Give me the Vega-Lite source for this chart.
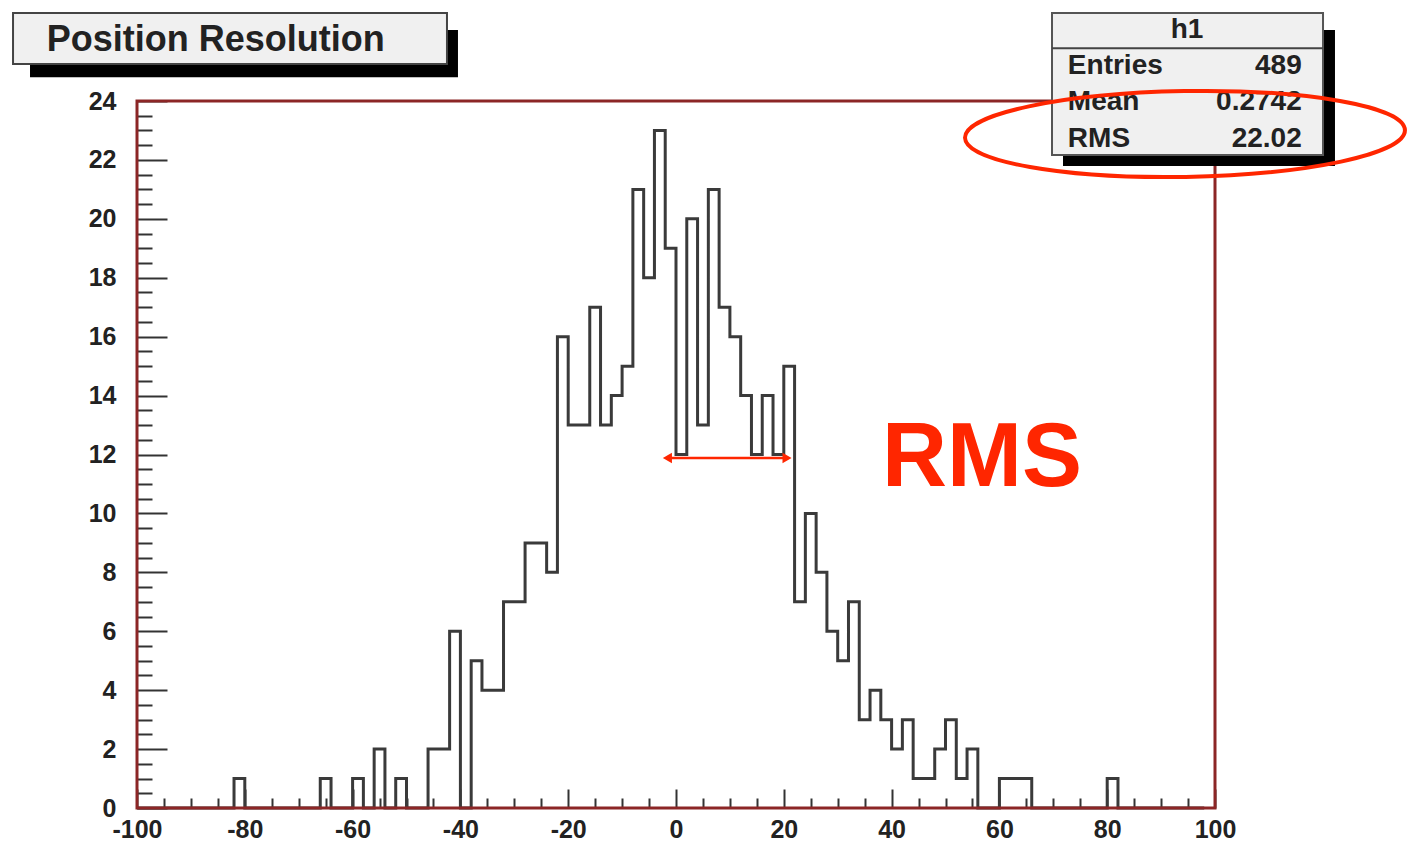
{
  "$schema": "https://vega.github.io/schema/vega-lite/v6.json",
  "width": 1078,
  "height": 707,
  "autosize": {"type": "none"},
  "padding": {"left": 137, "top": 101, "right": 193, "bottom": 37},
  "background": "white",
  "config": {"view": {"stroke": null}, "font": "Liberation Sans"},
  "datasets": {
    "h1": [
      {"x": -100, "count": 0}, {"x": -98, "count": 0}, {"x": -96, "count": 0}, {"x": -94, "count": 0},
      {"x": -92, "count": 0}, {"x": -90, "count": 0}, {"x": -88, "count": 0}, {"x": -86, "count": 0},
      {"x": -84, "count": 0}, {"x": -82, "count": 1}, {"x": -80, "count": 0}, {"x": -78, "count": 0},
      {"x": -76, "count": 0}, {"x": -74, "count": 0}, {"x": -72, "count": 0}, {"x": -70, "count": 0},
      {"x": -68, "count": 0}, {"x": -66, "count": 1}, {"x": -64, "count": 0}, {"x": -62, "count": 0},
      {"x": -60, "count": 1}, {"x": -58, "count": 0}, {"x": -56, "count": 2}, {"x": -54, "count": 0},
      {"x": -52, "count": 1}, {"x": -50, "count": 0}, {"x": -48, "count": 0}, {"x": -46, "count": 2},
      {"x": -44, "count": 2}, {"x": -42, "count": 6}, {"x": -40, "count": 0}, {"x": -38, "count": 5},
      {"x": -36, "count": 4}, {"x": -34, "count": 4}, {"x": -32, "count": 7}, {"x": -30, "count": 7},
      {"x": -28, "count": 9}, {"x": -26, "count": 9}, {"x": -24, "count": 8}, {"x": -22, "count": 16},
      {"x": -20, "count": 13}, {"x": -18, "count": 13}, {"x": -16, "count": 17}, {"x": -14, "count": 13},
      {"x": -12, "count": 14}, {"x": -10, "count": 15}, {"x": -8, "count": 21}, {"x": -6, "count": 18},
      {"x": -4, "count": 23}, {"x": -2, "count": 19}, {"x": 0, "count": 12}, {"x": 2, "count": 20},
      {"x": 4, "count": 13}, {"x": 6, "count": 21}, {"x": 8, "count": 17}, {"x": 10, "count": 16},
      {"x": 12, "count": 14}, {"x": 14, "count": 12}, {"x": 16, "count": 14}, {"x": 18, "count": 12},
      {"x": 20, "count": 15}, {"x": 22, "count": 7}, {"x": 24, "count": 10}, {"x": 26, "count": 8},
      {"x": 28, "count": 6}, {"x": 30, "count": 5}, {"x": 32, "count": 7}, {"x": 34, "count": 3},
      {"x": 36, "count": 4}, {"x": 38, "count": 3}, {"x": 40, "count": 2}, {"x": 42, "count": 3},
      {"x": 44, "count": 1}, {"x": 46, "count": 1}, {"x": 48, "count": 2}, {"x": 50, "count": 3},
      {"x": 52, "count": 1}, {"x": 54, "count": 2}, {"x": 56, "count": 0}, {"x": 58, "count": 0},
      {"x": 60, "count": 1}, {"x": 62, "count": 1}, {"x": 64, "count": 1}, {"x": 66, "count": 0},
      {"x": 68, "count": 0}, {"x": 70, "count": 0}, {"x": 72, "count": 0}, {"x": 74, "count": 0},
      {"x": 76, "count": 0}, {"x": 78, "count": 0}, {"x": 80, "count": 1}, {"x": 82, "count": 0},
      {"x": 84, "count": 0}, {"x": 86, "count": 0}, {"x": 88, "count": 0}, {"x": 90, "count": 0},
      {"x": 92, "count": 0}, {"x": 94, "count": 0}, {"x": 96, "count": 0}, {"x": 98, "count": 0}
    ],
    "one": [{}]
  },
  "resolve": {"axis": {"x": "independent", "y": "independent"}},
  "layer": [
    {
      "data": {"name": "h1"},
      "mark": {"type": "line", "interpolate": "step-after", "stroke": "#3a3a3a", "strokeWidth": 3, "strokeJoin": "miter"},
      "encoding": {
        "x": {
          "field": "x", "type": "quantitative",
          "scale": {"domain": [-100, 100], "nice": false, "zero": false},
          "axis": {
            "orient": "bottom", "title": null, "domain": false, "grid": false,
            "values": [-100, -80, -60, -40, -20, 0, 20, 40, 60, 80, 100],
            "tickSize": -19, "tickWidth": 2, "tickColor": "#333333",
            "labelFont": "Liberation Sans", "labelFontWeight": "bold", "labelFontSize": 25, "labelColor": "#222222",
            "labelPadding": 28, "labelFlush": false, "labelOverlap": false,
            "labelExpr": "datum.value < 0 ? '-' + abs(datum.value) : '' + datum.value"
          }
        },
        "y": {
          "field": "count", "type": "quantitative",
          "scale": {"domain": [0, 24], "nice": false, "zero": false},
          "axis": {
            "orient": "left", "title": null, "domain": false, "grid": false,
            "values": [0, 2, 4, 6, 8, 10, 12, 14, 16, 18, 20, 22, 24],
            "tickSize": -30, "tickWidth": 2, "tickColor": "#333333",
            "labelFont": "Liberation Sans", "labelFontWeight": "bold", "labelFontSize": 25, "labelColor": "#222222",
            "labelPadding": 51, "labelOverlap": false
          }
        }
      }
    },
    {
      "data": {"name": "h1"},
      "mark": {"type": "point", "opacity": 0},
      "encoding": {
        "x": {
          "field": "x", "type": "quantitative",
          "scale": {"domain": [-100, 100], "nice": false, "zero": false},
          "axis": {
            "orient": "bottom", "title": null, "domain": false, "grid": false, "labels": false,
            "values": [-95, -90, -85, -75, -70, -65, -55, -50, -45, -35, -30, -25, -15, -10, -5, 5, 10, 15, 25, 30, 35, 45, 50, 55, 65, 70, 75, 85, 90, 95],
            "tickSize": -10, "tickWidth": 2, "tickColor": "#333333"
          }
        },
        "y": {
          "field": "count", "type": "quantitative",
          "scale": {"domain": [0, 24], "nice": false, "zero": false},
          "axis": {
            "orient": "left", "title": null, "domain": false, "grid": false, "labels": false,
            "values": [0.5, 1, 1.5, 2.5, 3, 3.5, 4.5, 5, 5.5, 6.5, 7, 7.5, 8.5, 9, 9.5, 10.5, 11, 11.5, 12.5, 13, 13.5, 14.5, 15, 15.5, 16.5, 17, 17.5, 18.5, 19, 19.5, 20.5, 21, 21.5, 22.5, 23, 23.5],
            "tickSize": -15, "tickWidth": 2, "tickColor": "#333333"
          }
        }
      }
    },
    {
      "data": {"name": "one"},
      "mark": {"type": "rect", "fill": null, "fillOpacity": 0, "stroke": "#8c2626", "strokeWidth": 3},
      "encoding": {
        "x": {"datum": -100, "type": "quantitative", "scale": {"domain": [-100, 100], "nice": false, "zero": false}, "axis": null},
        "x2": {"datum": 100},
        "y": {"datum": 0, "type": "quantitative", "scale": {"domain": [0, 24], "nice": false, "zero": false}, "axis": null},
        "y2": {"datum": 24}
      }
    },
    {
      "data": {"name": "one"},
      "mark": {"type": "rect", "fill": "#000000"},
      "encoding": {
        "x": {"datum": -119.85, "type": "quantitative", "scale": {"domain": [-100, 100], "nice": false, "zero": false}, "axis": null},
        "x2": {"datum": -40.45},
        "y": {"datum": 26.41, "type": "quantitative", "scale": {"domain": [0, 24], "nice": false, "zero": false}, "axis": null},
        "y2": {"datum": 24.81}
      }
    },
    {
      "data": {"name": "one"},
      "mark": {"type": "rect", "fill": "#000000"},
      "encoding": {
        "x": {"datum": 71.8, "type": "quantitative", "scale": {"domain": [-100, 100], "nice": false, "zero": false}, "axis": null},
        "x2": {"datum": 122.26},
        "y": {"datum": 26.41, "type": "quantitative", "scale": {"domain": [0, 24], "nice": false, "zero": false}, "axis": null},
        "y2": {"datum": 21.79}
      }
    },
    {
      "data": {"name": "one"},
      "mark": {"type": "rect", "fill": "#f0f0f0", "stroke": "#444444", "strokeWidth": 2},
      "encoding": {
        "x": {"datum": -123.0, "type": "quantitative", "scale": {"domain": [-100, 100], "nice": false, "zero": false}, "axis": null},
        "x2": {"datum": -42.49},
        "y": {"datum": 26.99, "type": "quantitative", "scale": {"domain": [0, 24], "nice": false, "zero": false}, "axis": null},
        "y2": {"datum": 25.26}
      }
    },
    {
      "data": {"name": "one"},
      "mark": {"type": "rect", "fill": "#f0f0f0", "stroke": "#555555", "strokeWidth": 2},
      "encoding": {
        "x": {"datum": 69.76, "type": "quantitative", "scale": {"domain": [-100, 100], "nice": false, "zero": false}, "axis": null},
        "x2": {"datum": 120.04},
        "y": {"datum": 26.99, "type": "quantitative", "scale": {"domain": [0, 24], "nice": false, "zero": false}, "axis": null},
        "y2": {"datum": 22.17}
      }
    },
    {
      "data": {"name": "one"},
      "mark": {"type": "rule", "stroke": "#444444", "strokeWidth": 2},
      "encoding": {
        "x": {"datum": 69.76, "type": "quantitative", "scale": {"domain": [-100, 100], "nice": false, "zero": false}, "axis": null},
        "x2": {"datum": 120.04},
        "y": {"datum": 25.79, "type": "quantitative", "scale": {"domain": [0, 24], "nice": false, "zero": false}, "axis": null}
      }
    },
    {
      "data": {"name": "one"},
      "mark": {"type": "text", "text": "Position Resolution", "align": "left", "baseline": "middle", "font": "Liberation Sans", "fontWeight": "bold", "fontSize": 36, "fill": "#222222"},
      "encoding": {
        "x": {"datum": -116.75, "type": "quantitative", "scale": {"domain": [-100, 100], "nice": false, "zero": false}, "axis": null},
        "y": {"datum": 26.08, "type": "quantitative", "scale": {"domain": [0, 24], "nice": false, "zero": false}, "axis": null}
      }
    },
    {
      "data": {"name": "one"},
      "mark": {"type": "text", "text": "h1", "align": "center", "baseline": "middle", "font": "Liberation Sans", "fontWeight": "bold", "fontSize": 28, "fill": "#222222"},
      "encoding": {
        "x": {"datum": 94.8, "type": "quantitative", "scale": {"domain": [-100, 100], "nice": false, "zero": false}, "axis": null},
        "y": {"datum": 26.41, "type": "quantitative", "scale": {"domain": [0, 24], "nice": false, "zero": false}, "axis": null}
      }
    },
    {
      "data": {"name": "one"},
      "mark": {"type": "text", "text": "Entries", "align": "left", "baseline": "middle", "font": "Liberation Sans", "fontWeight": "bold", "fontSize": 28, "fill": "#222222"},
      "encoding": {
        "x": {"datum": 72.7, "type": "quantitative", "scale": {"domain": [-100, 100], "nice": false, "zero": false}, "axis": null},
        "y": {"datum": 25.19, "type": "quantitative", "scale": {"domain": [0, 24], "nice": false, "zero": false}, "axis": null}
      }
    },
    {
      "data": {"name": "one"},
      "mark": {"type": "text", "text": "489", "align": "right", "baseline": "middle", "font": "Liberation Sans", "fontWeight": "bold", "fontSize": 28, "fill": "#222222"},
      "encoding": {
        "x": {"datum": 116.09, "type": "quantitative", "scale": {"domain": [-100, 100], "nice": false, "zero": false}, "axis": null},
        "y": {"datum": 25.19, "type": "quantitative", "scale": {"domain": [0, 24], "nice": false, "zero": false}, "axis": null}
      }
    },
    {
      "data": {"name": "one"},
      "mark": {"type": "text", "text": "Mean", "align": "left", "baseline": "middle", "font": "Liberation Sans", "fontWeight": "bold", "fontSize": 28, "fill": "#222222"},
      "encoding": {
        "x": {"datum": 72.7, "type": "quantitative", "scale": {"domain": [-100, 100], "nice": false, "zero": false}, "axis": null},
        "y": {"datum": 23.98, "type": "quantitative", "scale": {"domain": [0, 24], "nice": false, "zero": false}, "axis": null}
      }
    },
    {
      "data": {"name": "one"},
      "mark": {"type": "text", "text": "0.2742", "align": "right", "baseline": "middle", "font": "Liberation Sans", "fontWeight": "bold", "fontSize": 28, "fill": "#222222"},
      "encoding": {
        "x": {"datum": 116.09, "type": "quantitative", "scale": {"domain": [-100, 100], "nice": false, "zero": false}, "axis": null},
        "y": {"datum": 23.98, "type": "quantitative", "scale": {"domain": [0, 24], "nice": false, "zero": false}, "axis": null}
      }
    },
    {
      "data": {"name": "one"},
      "mark": {"type": "text", "text": "RMS", "align": "left", "baseline": "middle", "font": "Liberation Sans", "fontWeight": "bold", "fontSize": 28, "fill": "#222222"},
      "encoding": {
        "x": {"datum": 72.7, "type": "quantitative", "scale": {"domain": [-100, 100], "nice": false, "zero": false}, "axis": null},
        "y": {"datum": 22.71, "type": "quantitative", "scale": {"domain": [0, 24], "nice": false, "zero": false}, "axis": null}
      }
    },
    {
      "data": {"name": "one"},
      "mark": {"type": "text", "text": "22.02", "align": "right", "baseline": "middle", "font": "Liberation Sans", "fontWeight": "bold", "fontSize": 28, "fill": "#222222"},
      "encoding": {
        "x": {"datum": 116.09, "type": "quantitative", "scale": {"domain": [-100, 100], "nice": false, "zero": false}, "axis": null},
        "y": {"datum": 22.71, "type": "quantitative", "scale": {"domain": [0, 24], "nice": false, "zero": false}, "axis": null}
      }
    },
    {
      "data": {"name": "one"},
      "mark": {"type": "rule", "stroke": "#ff2600", "strokeWidth": 2.5},
      "encoding": {
        "x": {"datum": -1.7, "type": "quantitative", "scale": {"domain": [-100, 100], "nice": false, "zero": false}, "axis": null},
        "x2": {"datum": 20.8},
        "y": {"datum": 11.88, "type": "quantitative", "scale": {"domain": [0, 24], "nice": false, "zero": false}, "axis": null}
      }
    },
    {
      "data": {"name": "one"},
      "mark": {"type": "point", "shape": "triangle-left", "filled": true, "fill": "#ff2600", "size": 110, "opacity": 1},
      "encoding": {
        "x": {"datum": -1.6, "type": "quantitative", "scale": {"domain": [-100, 100], "nice": false, "zero": false}, "axis": null},
        "y": {"datum": 11.88, "type": "quantitative", "scale": {"domain": [0, 24], "nice": false, "zero": false}, "axis": null}
      }
    },
    {
      "data": {"name": "one"},
      "mark": {"type": "point", "shape": "triangle-right", "filled": true, "fill": "#ff2600", "size": 110, "opacity": 1},
      "encoding": {
        "x": {"datum": 20.6, "type": "quantitative", "scale": {"domain": [-100, 100], "nice": false, "zero": false}, "axis": null},
        "y": {"datum": 11.88, "type": "quantitative", "scale": {"domain": [0, 24], "nice": false, "zero": false}, "axis": null}
      }
    },
    {
      "data": {"name": "one"},
      "mark": {"type": "text", "text": "RMS", "align": "center", "baseline": "middle", "font": "Liberation Sans", "fontWeight": "bold", "fontSize": 90, "fill": "#ff2600"},
      "encoding": {
        "x": {"datum": 56.77, "type": "quantitative", "scale": {"domain": [-100, 100], "nice": false, "zero": false}, "axis": null},
        "y": {"datum": 11.85, "type": "quantitative", "scale": {"domain": [0, 24], "nice": false, "zero": false}, "axis": null}
      }
    },
    {
      "data": {"name": "one"},
      "mark": {"type": "point", "shape": "M-1,0A1,0.195,0,1,0,1,0A1,0.195,0,1,0,-1,0Z", "filled": false, "stroke": "#ff2600", "strokeWidth": 4, "size": 193600, "angle": -1, "opacity": 1},
      "encoding": {
        "x": {"datum": 94.43, "type": "quantitative", "scale": {"domain": [-100, 100], "nice": false, "zero": false}, "axis": null},
        "y": {"datum": 22.88, "type": "quantitative", "scale": {"domain": [0, 24], "nice": false, "zero": false}, "axis": null}
      }
    }
  ]
}
